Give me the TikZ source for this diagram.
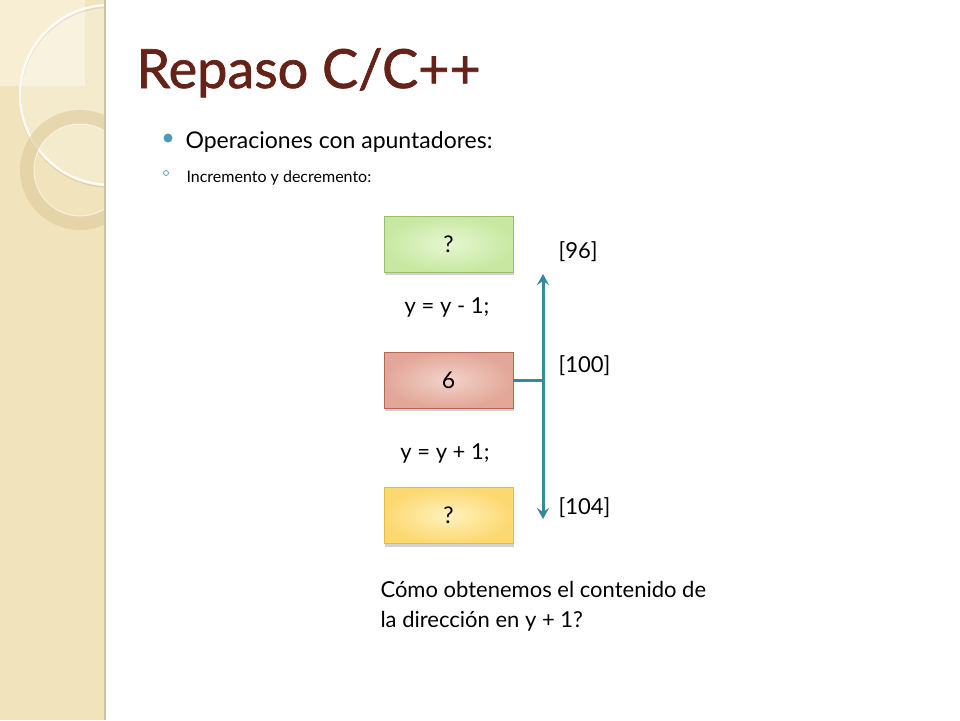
\documentclass[tikz,border=0pt]{standalone}
\usepackage{fontspec}
\setmainfont{Lato}
\newfontfamily\fuentetitulo{Lato}[FakeBold=1.3]
\usetikzlibrary{positioning, arrows.meta, shadows}
\definecolor{banda}{RGB}{241,227,187}
\definecolor{bandaclara}{RGB}{247,238,212}
\definecolor{anillo}{RGB}{226,207,162}
\definecolor{bordebanda}{RGB}{205,195,172}
\definecolor{titulo}{RGB}{100,34,24}
\definecolor{vineta}{RGB}{75,155,185}
\definecolor{flecha}{RGB}{52,137,160}

\begin{document}
\begin{tikzpicture}[x=1pt, y=1pt,
    celda/.style={minimum width=129pt, minimum height=56pt, inner sep=0pt,
        line width=0.8pt, font=\fontsize{23}{26}\selectfont,
        drop shadow={shadow xshift=1pt, shadow yshift=-3pt, opacity=0.35}},
    dir/.style={font=\fontsize{22}{26}\selectfont, anchor=west},
    oper/.style={font=\fontsize{22}{26}\selectfont},
    flechas/.style={-{Stealth[length=11pt, width=12pt, inset=4pt]}, flecha, line width=3pt}]
    % Margenes de la diapositiva
    \useasboundingbox (0,0) rectangle (960,-720);
    \fill[white] (0,0) rectangle (960,-720);

    % Banda decorativa (izquierda)
    \fill[banda] (0,0) rectangle (105,-720);
    \begin{scope}
        \clip (0,0) rectangle (105,-720);
        \fill[bandaclara] (0,0) rectangle (85,-86);
        \fill[white, opacity=0.25] (110,-95) circle (90);
        \draw[black, line width=2.5pt, opacity=0.08] (110,-96.5) circle (90);
        \draw[white, line width=2.5pt, opacity=0.85] (110,-95) circle (90);
        \fill[anillo, opacity=0.7, even odd rule] (80,-170) circle (60) (80,-170) circle (46);
        \draw[white, line width=1pt, opacity=0.6] (80,-170) circle (46);
    \end{scope}
    \draw[bordebanda, line width=2pt] (105,0) -- (105,-720);

    % Titulo y vinetas
    \node[anchor=base west, titulo, font=\fuentetitulo\fontsize{54}{60}\selectfont] (tit) at (133,-88) {Repaso C/C++};
    \fill[vineta] (168,-138) circle (4.5);
    \node[anchor=base west, font=\fontsize{23}{28}\selectfont] (punto) at (182,-148) {Operaciones con apuntadores:};
    \draw[vineta, line width=0.7pt] (166,-173) circle (2.5);
    \node[anchor=base west, font=\fontsize{16}{20}\selectfont] (subpunto) at (183,-182) {Incremento y decremento:};

    % Celdas de memoria
    \node[celda, draw={rgb,255:red,150;green,192;blue,105},
        inner color={rgb,255:red,230;green,246;blue,208}, outer color={rgb,255:red,200;green,232;blue,162}]
        (ant) at (448.5,-244) {?};
    \node[celda, draw={rgb,255:red,182;green,102;blue,84},
        inner color={rgb,255:red,243;green,210;blue,202}, outer color={rgb,255:red,226;green,167;blue,152}]
        (act) at (448.5,-380) {6};
    \node[celda, draw={rgb,255:red,234;green,186;blue,64},
        inner color={rgb,255:red,255;green,242;blue,190}, outer color={rgb,255:red,252;green,216;blue,112}]
        (sig) at (448.5,-515.5) {?};

    % Operaciones entre celdas
    \node[oper] (menos) at (447,-307) {y = y - 1;};
    \node[oper] (mas) at (445,-453) {y = y + 1;};

    % Flechas de direcciones
    \coordinate (union) at (543,-380);
    \coordinate (arriba) at (543,-274);
    \coordinate (abajo) at (543,-519);
    \draw[flecha, line width=3pt] (act.east) -- (union);
    \draw[flechas] (union) -- (arriba);
    \draw[flechas] (union) -- (abajo);

    % Direcciones
    \node[dir] (d96) at (555,-252) {[96]};
    \node[dir] (d100) at (555,-366) {[100]};
    \node[dir] (d104) at (555,-508) {[104]};

    % Pregunta final
    \node[anchor=north west, align=left, font=\fontsize{22}{30}\selectfont] (preg) at (377,-578)
        {Cómo obtenemos el contenido de\\la dirección en y + 1?};
\end{tikzpicture}
\end{document}
